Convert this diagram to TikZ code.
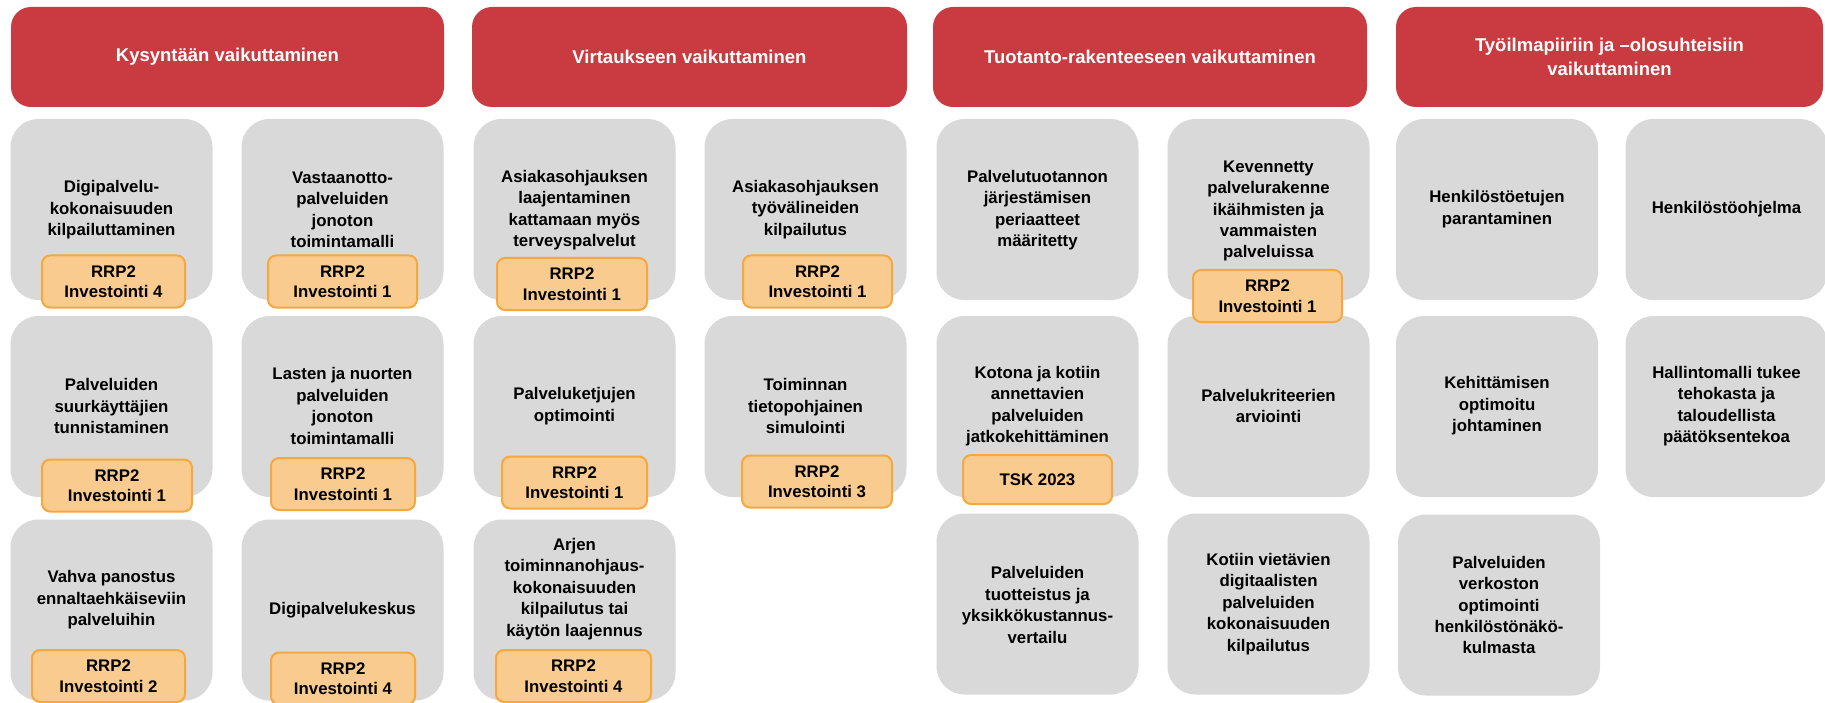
\documentclass[tikz,border=0pt]{standalone}
\usepackage{fontspec}
\setmainfont{Liberation Sans}
\definecolor{hdrred}{RGB}{201,59,64}
\definecolor{boxgray}{RGB}{217,217,217}
\definecolor{badgefill}{RGB}{250,203,142}
\definecolor{badgeline}{RGB}{245,168,64}
\begin{document}
\begin{tikzpicture}[x=1pt,y=-1pt,
  header/.style={fill=hdrred, rounded corners=20pt, minimum height=100pt, inner sep=0pt,
    text=white, align=center, font=\fontsize{18.5}{24.5}\selectfont\bfseries},
  graybox/.style={fill=boxgray, rounded corners=28pt, minimum width=202pt, minimum height=181pt, inner sep=0pt},
  txt/.style={align=center, inner sep=0pt, font=\fontsize{16.8}{21.4}\selectfont\bfseries},
  badge/.style={fill=badgefill, draw=badgeline, line width=2pt, rounded corners=8pt,
    minimum height=52pt, inner sep=0pt, align=center, font=\fontsize{16.8}{20.5}\selectfont\bfseries}
]
\useasboundingbox (0,0) rectangle (1825,703);
\fill[white] (0,0) rectangle (1825,703);

% headers
\node[header, minimum width=433pt] (h1) at (227.5,57) {Kysyntään vaikuttaminen};
\node[header, minimum width=435pt] (h2) at (689.5,57) {Virtaukseen vaikuttaminen};
\node[header, minimum width=434pt] (h3) at (1150,57) {Tuotanto-rakenteeseen vaikuttaminen};
\node[header, minimum width=427pt] (h4) at (1609.5,57) {Työilmapiiriin ja –olosuhteisiin\\vaikuttaminen};

% gray boxes
\node[graybox] (g11) at (111.5,209.5) {};
\node[graybox] (g12) at (342.5,209.5) {};
\node[graybox] (g13) at (111.5,406.5) {};
\node[graybox] (g14) at (342.5,406.5) {};
\node[graybox] (g15) at (111.5,610) {};
\node[graybox] (g16) at (342.5,610) {};

\node[graybox] (g21) at (574.5,209.5) {};
\node[graybox] (g22) at (805.5,209.5) {};
\node[graybox] (g23) at (574.5,406.5) {};
\node[graybox] (g24) at (805.5,406.5) {};
\node[graybox] (g25) at (574.5,610) {};

\node[graybox] (g31) at (1037.5,209.5) {};
\node[graybox] (g32) at (1268.5,209.5) {};
\node[graybox] (g33) at (1037.5,406.5) {};
\node[graybox] (g34) at (1268.5,406.5) {};
\node[graybox] (g35) at (1037.5,604) {};
\node[graybox] (g36) at (1268.5,604) {};

\node[graybox] (g41) at (1497,209.5) {};
\node[graybox] (g42) at (1726.5,209.5) {};
\node[graybox] (g43) at (1497,406.5) {};
\node[graybox] (g44) at (1726.5,406.5) {};
\node[graybox] (g45) at (1499,605) {};

% texts
\node[txt] (t11) at (111.5,210) {Digipalvelu-\\kokonaisuuden\\kilpailuttaminen};
\node[txt] (t12) at (342.5,210) {Vastaanotto-\\palveluiden\\jonoton\\toimintamalli};
\node[txt] (t13) at (111.5,406) {Palveluiden\\suurkäyttäjien\\tunnistaminen};
\node[txt] (t14) at (342.5,406) {Lasten ja nuorten\\palveluiden\\jonoton\\toimintamalli};
\node[txt] (t15) at (111.5,600) {Vahva panostus\\ennaltaehkäiseviin\\palveluihin};
\node[txt] (t16) at (342.5,610) {Digipalvelukeskus};

\node[txt] (t21) at (574.5,210) {Asiakasohjauksen\\laajentaminen\\kattamaan myös\\terveyspalvelut};
\node[txt] (t22) at (805.5,209.5) {Asiakasohjauksen\\työvälineiden\\kilpailutus};
\node[txt] (t23) at (574.5,406) {Palveluketjujen\\optimointi};
\node[txt] (t24) at (805.5,406) {Toiminnan\\tietopohjainen\\simulointi};
\node[txt] (t25) at (574.5,589) {Arjen\\toiminnanohjaus-\\kokonaisuuden\\kilpailutus tai\\käytön laajennus};

\node[txt] (t31) at (1037.5,210) {Palvelutuotannon\\järjestämisen\\periaatteet\\määritetty};
\node[txt] (t32) at (1268.5,211) {Kevennetty\\palvelurakenne\\ikäihmisten ja\\vammaisten\\palveluissa};
\node[txt] (t33) at (1037.5,406) {Kotona ja kotiin\\annettavien\\palveluiden\\jatkokehittäminen};
\node[txt] (t34) at (1268.5,406) {Palvelukriteerien\\arviointi};
\node[txt] (t35) at (1037.5,605) {Palveluiden\\tuotteistus ja\\yksikkökustannus-\\vertailu};
\node[txt] (t36) at (1268.5,604) {Kotiin vietävien\\digitaalisten\\palveluiden\\kokonaisuuden\\kilpailutus};

\node[txt] (t41) at (1497,209) {Henkilöstöetujen\\parantaminen};
\node[txt] (t42) at (1726.5,209) {Henkilöstöohjelma};
\node[txt] (t43) at (1497,406) {Kehittämisen\\optimoitu\\johtaminen};
\node[txt] (t44) at (1726.5,406) {Hallintomalli tukee\\tehokasta ja\\taloudellista\\päätöksentekoa};
\node[txt] (t45) at (1499,605) {Palveluiden\\verkoston\\optimointi\\henkilöstönäkö-\\kulmasta};

% badges
\node[badge, minimum width=143pt] (b1) at (113.5,281.5) {RRP2\\Investointi 4};
\node[badge, minimum width=149pt] (b2) at (342.5,281.5) {RRP2\\Investointi 1};
\node[badge, minimum width=150pt] (b3) at (117,485.5) {RRP2\\Investointi 1};
\node[badge, minimum width=144pt] (b4) at (343,484) {RRP2\\Investointi 1};
\node[badge, minimum width=153pt] (b5) at (108.5,676) {RRP2\\Investointi 2};
\node[badge, minimum width=144pt] (b6) at (343,678.5) {RRP2\\Investointi 4};
\node[badge, minimum width=150pt] (b7) at (572,284) {RRP2\\Investointi 1};
\node[badge, minimum width=149pt] (b8) at (817.5,281.5) {RRP2\\Investointi 1};
\node[badge, minimum width=145pt] (b9) at (574.5,482.5) {RRP2\\Investointi 1};
\node[badge, minimum width=150pt] (b10) at (817,481.5) {RRP2\\Investointi 3};
\node[badge, minimum width=155pt] (b11) at (573.5,676) {RRP2\\Investointi 4};
\node[badge, minimum width=149pt] (b12) at (1267.5,296) {RRP2\\Investointi 1};
\node[badge, minimum width=149pt, minimum height=49pt] (b13) at (1037.5,479.5) {TSK 2023};
\end{tikzpicture}
\end{document}
